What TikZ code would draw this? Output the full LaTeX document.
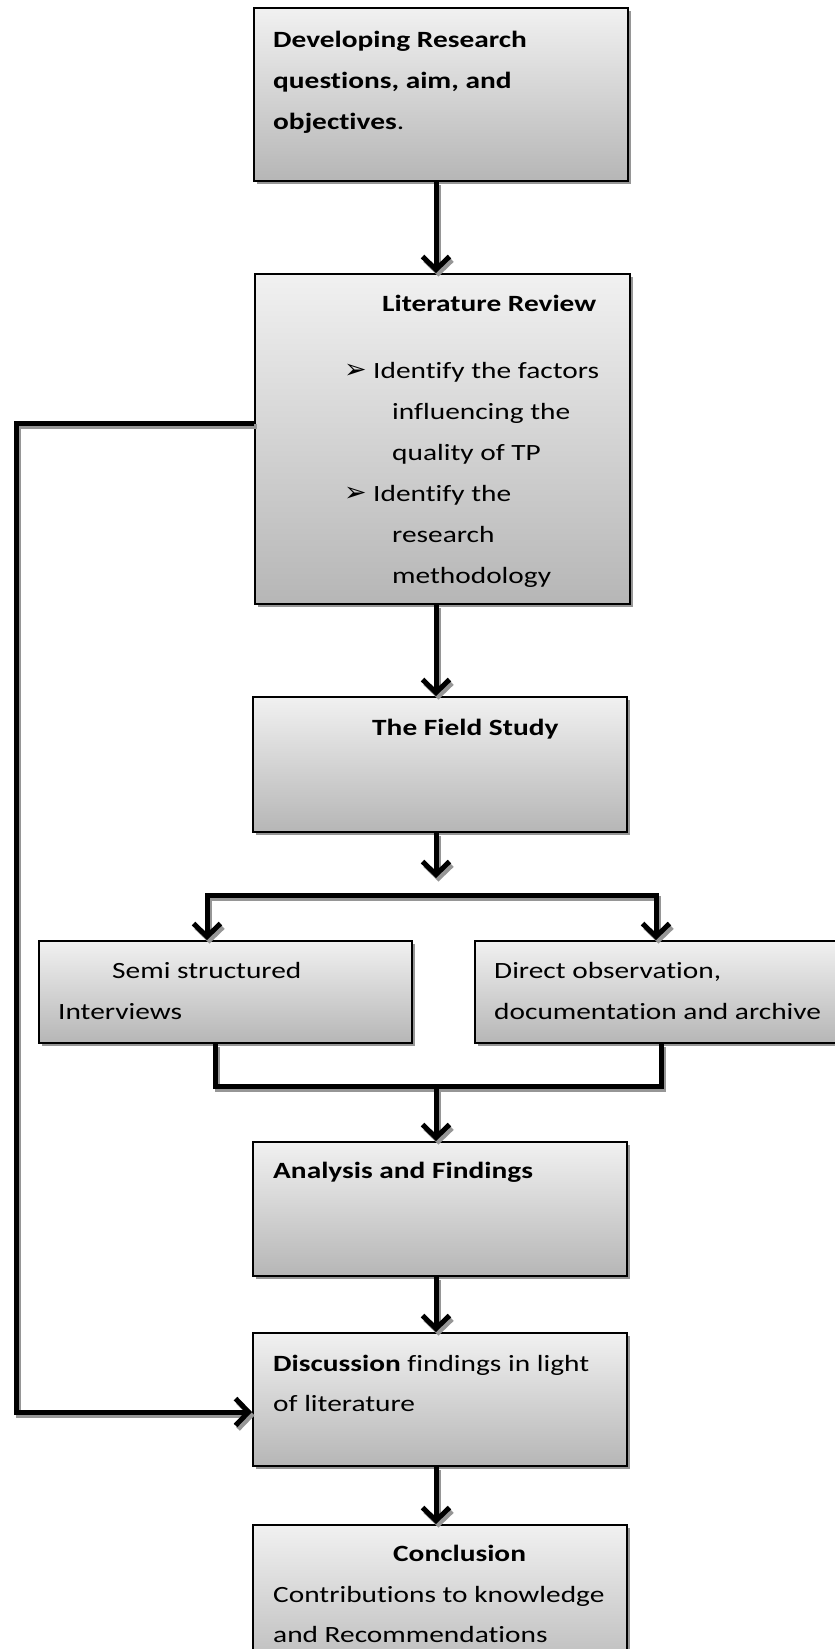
\documentclass[tikz,border=0pt]{standalone}
\usepackage{fontspec}
\setmainfont{Carlito}[FakeStretch=1.26, Ligatures=NoCommon]
\newfontfamily\arrowfont{DejaVu Sans}
\usetikzlibrary{arrows.meta,shadows}
\definecolor{boxtop}{RGB}{241,241,241}
\definecolor{boxbottom}{RGB}{182,182,182}
\definecolor{shade}{RGB}{150,150,150}
\tikzset{
  box/.style={draw=black, line width=1.8pt, top color=boxtop, bottom color=boxbottom,
    anchor=north west, inner sep=0pt,
    drop shadow={shadow xshift=3pt, shadow yshift=-3pt, fill=shade, opacity=1}},
  txt/.style={anchor=base west, inner sep=0pt, font=\fontsize{23.3}{41}\selectfont},
  bullet/.style={anchor=base west, inner sep=0pt, font=\arrowfont\fontsize{27}{27}\selectfont},
  wire/.style={line width=5pt, draw=black},
  wireshadow/.style={line width=5pt, draw=shade, transform canvas={xshift=2.5pt, yshift=-3.5pt}},
  tip/.style={-{Straight Barb[length=13pt,width=27pt]}}
}
% each connector is drawn twice: a grey offset copy, then the black line
\newcommand\wire[2][]{\draw[wireshadow,#1] #2; \draw[wire,#1] #2;}

\begin{document}
\begin{tikzpicture}[x=1pt,y=-1pt]
\useasboundingbox (0,0) rectangle (835,1649);
\clip (0,0) rectangle (835,1649);

% guide coordinates for the connectors
\coordinate (spine) at (436,0);
\coordinate (stop3) at (436,878);
\coordinate (splitM) at (436,895);
\coordinate (splitL) at (207,895);
\coordinate (splitR) at (656,895);
\coordinate (mergeL) at (215,1086);
\coordinate (mergeR) at (661,1086);
\coordinate (mergeM) at (436,1086);
\coordinate (fbTop) at (16,423);
\coordinate (fbBot) at (16,1412);

% boxes
\node[box, minimum width=374pt, minimum height=173pt] (dev) at (253,7) {};
\node[box, minimum width=375pt, minimum height=330pt] (lit) at (254,273) {};
\node[box, minimum width=374pt, minimum height=135pt] (field) at (252,696) {};
\node[box, minimum width=373pt, minimum height=102pt] (semi) at (38,940) {};
\node[box, minimum width=370pt, minimum height=102pt] (direct) at (474,940) {};
\node[box, minimum width=374pt, minimum height=134pt] (analysis) at (252,1141) {};
\node[box, minimum width=374pt, minimum height=133pt] (disc) at (252,1332) {};
\node[box, minimum width=374pt, minimum height=160pt] (concl) at (252,1524) {};

% texts
\node[txt] (dev1) at (273,47) {\bfseries Developing Research};
\node[txt] (dev2) at (273,88) {\bfseries questions, aim, and};
\node[txt] (dev3) at (273,129) {\textbf{objectives}.};

\node[txt] (lit0) at (382,311) {\bfseries Literature Review};
\node[bullet] (litb1) at (344,378) {➢};
\node[txt] (lit1) at (373,378) {Identify the factors};
\node[txt] (lit2) at (392,419) {influencing the};
\node[txt] (lit3) at (392,460) {quality of TP};
\node[bullet] (litb2) at (344,501) {➢};
\node[txt] (lit4) at (373,501) {Identify the};
\node[txt] (lit5) at (392,542) {research};
\node[txt] (lit6) at (392,583) {methodology};

\node[txt] (field1) at (372,735) {\bfseries The Field Study};

\node[txt] (semi1) at (112,978) {Semi structured};
\node[txt] (semi2) at (58,1019) {Interviews};
\node[txt] (direct1) at (494,978) {Direct observation,};
\node[txt] (direct2) at (494,1019) {documentation and archive};

\node[txt] (ana1) at (273,1178) {\bfseries Analysis and Findings};

\node[txt] (disc1) at (273,1371) {\textbf{Discussion} findings in light};
\node[txt] (disc2) at (273,1411) {of literature};

\node[txt] (concl1) at (393,1561) {\bfseries Conclusion};
\node[txt] (concl2) at (273,1602) {Contributions to knowledge};
\node[txt] (concl3) at (273,1642) {and Recommendations};

% connectors
\wire[tip]{(dev.south -| spine) -- (lit.north -| spine)}
\wire[tip]{(lit.south -| spine) -- (field.north -| spine)}
\wire[tip]{(field.south -| spine) -- (stop3)}
\wire[tip]{(splitM) -| (semi.north -| splitL)}
\wire[tip]{(splitM) -| (direct.north -| splitR)}
\wire{(semi.south -| mergeL) |- (mergeM) -| (direct.south -| mergeR)}
\wire[tip]{(mergeM) -- (analysis.north -| spine)}
\wire[tip]{(analysis.south -| spine) -- (disc.north -| spine)}
\wire[tip]{(disc.south -| spine) -- (concl.north -| spine)}
\wire[tip]{(lit.west |- fbTop) -- (fbTop) -- (fbBot) -- (disc.west |- fbBot)}
\end{tikzpicture}
\end{document}
